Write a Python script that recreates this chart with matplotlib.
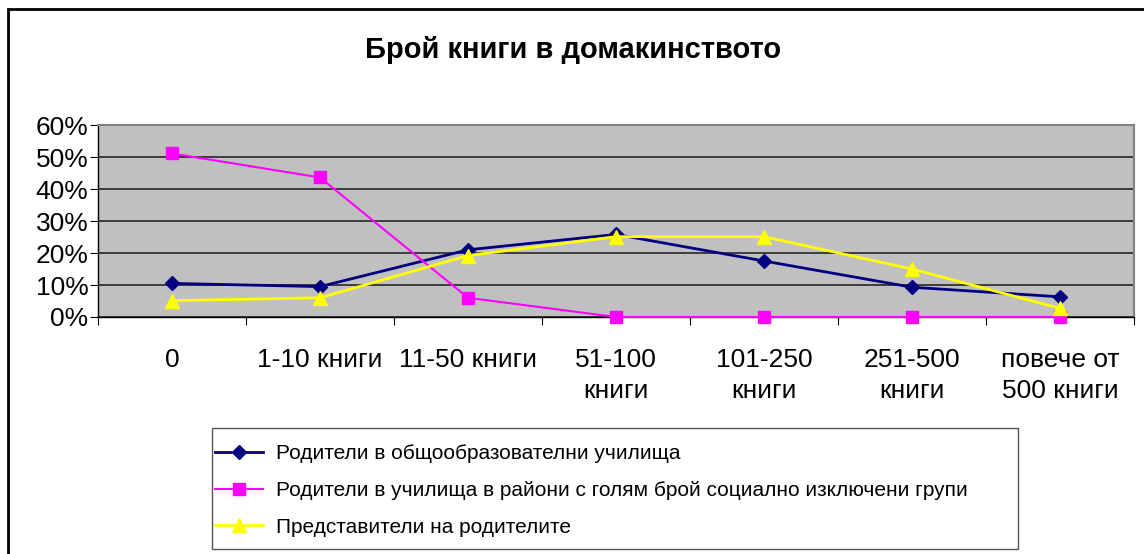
import matplotlib
matplotlib.use("Agg")
import matplotlib.pyplot as plt
from matplotlib.patches import Rectangle
from matplotlib.ticker import FixedLocator, NullFormatter

plt.rcParams['font.family'] = ['Liberation Sans', 'DejaVu Sans']

# book count groups
categories = ["0", "1-10 книги", "11-50 книги", "51-100\nкниги", "101-250\nкниги",
              "251-500\nкниги", "повече от\n500 книги"]

# shares per group (%)
general_schools = [10.5, 9.5, 21.0, 25.8, 17.5, 9.3, 6.3]
excluded_areas = [51.1, 43.6, 6.0, 0.0, 0.0, 0.0, 0.0]
parent_reps = [5.1, 6.0, 19.2, 25.1, 25.1, 15.0, 2.7]

series_names = ["Родители в общообразователни училища",
                "Родители в училища в райони с голям брой социално изключени групи",
                "Представители на родителите"]

fig = plt.figure(figsize=(11.44, 5.54), dpi=100)

# outer chart frame (runs off the right and bottom edges)
fig.patches.append(Rectangle((8 / 1144, -0.05), 1.2, 1 - 9 / 554 + 0.05,
                             transform=fig.transFigure, fill=False,
                             edgecolor="black", linewidth=2))

ax = fig.add_axes([98 / 1144, 1 - 317 / 554, (1134 - 98) / 1144, (317 - 125) / 554])
ax.set_facecolor("#C0C0C0")

x = list(range(len(categories)))
ax.plot(x, general_schools, color="#000080", linewidth=2, marker="D", markersize=7,
        label=series_names[0], clip_on=False, zorder=3)
ax.plot(x, excluded_areas, color="#FF00FF", linewidth=1.5, marker="s", markersize=8,
        label=series_names[1], clip_on=False, zorder=3)
ax.plot(x, parent_reps, color="#FFFF00", linewidth=2, marker="^", markersize=10,
        label=series_names[2], clip_on=False, zorder=3)

ax.set_xlim(-0.5, len(categories) - 0.5)
ax.set_ylim(0, 60)
ax.set_yticks(range(0, 61, 10))
ax.set_yticklabels([f"{v}%" for v in range(0, 61, 10)], fontsize=19)
ax.yaxis.grid(True, color="#333333", linewidth=1.3)
ax.set_axisbelow(True)

# ticks sit between categories, labels under the points
ax.xaxis.set_major_locator(FixedLocator([i - 0.5 for i in range(len(categories) + 1)]))
ax.xaxis.set_major_formatter(NullFormatter())
ax.xaxis.set_minor_locator(FixedLocator(x))
ax.set_xticklabels(categories, minor=True, fontsize=19, linespacing=1.4,
                   va="top")
ax.tick_params(axis="x", which="minor", length=0, pad=22)
ax.tick_params(axis="x", which="major", length=6, direction="out", color="black")
ax.tick_params(axis="y", length=6, direction="out", pad=1)

for side in ("top", "right"):
    ax.spines[side].set_color("#808080")
    ax.spines[side].set_linewidth(1.5)
for side in ("left", "bottom"):
    ax.spines[side].set_color("black")
    ax.spines[side].set_linewidth(1)

fig.text(573 / 1144, 1 - 50 / 554, "Брой книги в домакинството", ha="center",
         va="center", fontsize=21, fontweight="bold")

# legend with its own frame
fig.patches.append(Rectangle((212 / 1144, 1 - 549 / 554), (1018 - 212) / 1144,
                             (549 - 428) / 554, transform=fig.transFigure,
                             fill=False, edgecolor="#555555", linewidth=1))
fig.legend(loc="upper left", bbox_to_anchor=(207 / 1144, 1 - 436 / 554),
           frameon=False, fontsize=15, handlelength=2.3, handletextpad=0.6,
           labelspacing=0.85, borderaxespad=0)

fig.savefig("out.png", dpi=100)
